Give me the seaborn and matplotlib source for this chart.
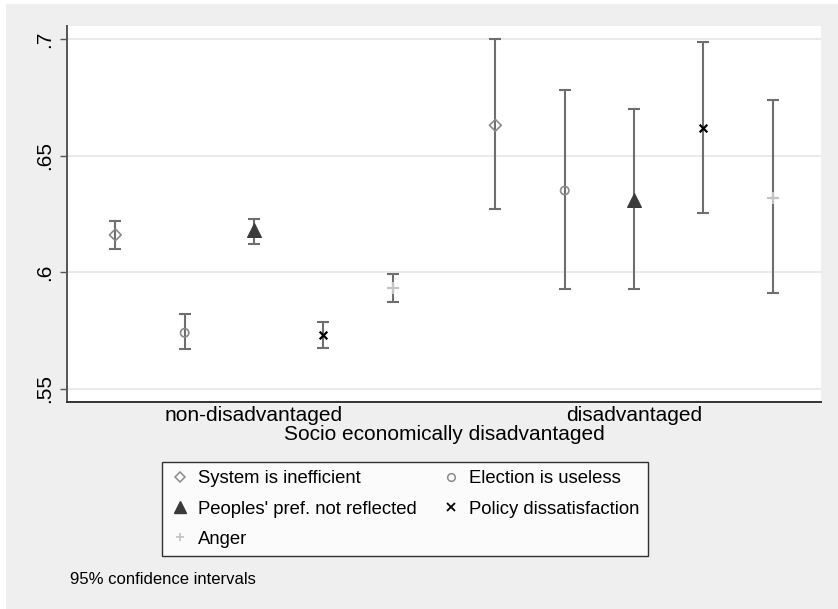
import numpy as np
import pandas as pd
import seaborn as sns
import matplotlib.pyplot as plt
from matplotlib.patches import Rectangle
from matplotlib.lines import Line2D

sns.set_style('white')
plt.rcParams['font.family'] = ['Liberation Sans', 'DejaVu Sans']
plt.rcParams['text.color'] = 'black'
plt.rcParams['axes.labelcolor'] = 'black'
plt.rcParams['xtick.color'] = 'black'
plt.rcParams['ytick.color'] = 'black'

groups = ['non-disadvantaged', 'disadvantaged']
series = ['System is inefficient', 'Election is useless',
          "Peoples' pref. not reflected", 'Policy dissatisfaction', 'Anger']

# point estimates and 95% CI per group (non-disadv., disadv.)
est = {
    'System is inefficient': [0.616, 0.663],
    'Election is useless': [0.574, 0.635],
    "Peoples' pref. not reflected": [0.618, 0.631],
    'Policy dissatisfaction': [0.573, 0.662],
    'Anger': [0.5934, 0.632],
}
lo = {
    'System is inefficient': [0.610, 0.627],
    'Election is useless': [0.567, 0.5926],
    "Peoples' pref. not reflected": [0.612, 0.5926],
    'Policy dissatisfaction': [0.5675, 0.6253],
    'Anger': [0.5873, 0.591],
}
hi = {
    'System is inefficient': [0.622, 0.700],
    'Election is useless': [0.582, 0.678],
    "Peoples' pref. not reflected": [0.623, 0.670],
    'Policy dissatisfaction': [0.5785, 0.6986],
    'Anger': [0.5994, 0.674],
}

rows = []
for j, s in enumerate(series):
    for i, g in enumerate(groups):
        rows.append({'series': s, 'group': g, 'x': i + (j - 2) * 0.1824,
                     'est': est[s][i], 'lo': lo[s][i], 'hi': hi[s][i]})
df = pd.DataFrame(rows)

markers = {'System is inefficient': 'D', 'Election is useless': 'o',
           "Peoples' pref. not reflected": '^', 'Policy dissatisfaction': 'x',
           'Anger': '+'}
mcolor = {'System is inefficient': '#8a8a8a', 'Election is useless': '#8a8a8a',
          "Peoples' pref. not reflected": '#3a3a3a', 'Policy dissatisfaction': '#000000',
          'Anger': '#c4c4c4'}
filled = {"Peoples' pref. not reflected"}
msize = {'System is inefficient': 6, 'Election is useless': 6,
         "Peoples' pref. not reflected": 10, 'Policy dissatisfaction': 5.5,
         'Anger': 8}

fig = plt.figure(figsize=(8.38, 6.09), dpi=100, facecolor='white')
fig.patches.append(Rectangle((6 / 838, 0), 1, 1 - 4 / 609, transform=fig.transFigure,
                             facecolor='#efefef', edgecolor='none', zorder=-10))
ax = fig.add_axes([67 / 838, 1 - 402 / 609, 754 / 838, 376 / 609])
ax.set_facecolor('white')

# confidence intervals
ax.errorbar(df['x'], df['est'], yerr=[df['est'] - df['lo'], df['hi'] - df['est']],
            fmt='none', ecolor='#6e6e6e', elinewidth=1.5, capsize=4.2, capthick=1.5, zorder=2)

for s in series:
    sub = df[df['series'] == s]
    c = mcolor[s]
    if s in filled:
        kw = dict(color=c, edgecolor=c)
    elif markers[s] in ('x', '+'):
        kw = dict(color=c, linewidth=1.6)
    else:
        kw = dict(facecolor='none', edgecolor=c, linewidth=1.2)
    sns.scatterplot(data=sub, x='x', y='est', marker=markers[s], s=msize[s] ** 2,
                    ax=ax, zorder=3, legend=False, **kw)

ax.set_xlim(-0.492, 1.492)
ax.set_ylim(0.5443, 0.7056)
ax.set_yticks([0.55, 0.6, 0.65, 0.7])
ax.set_yticklabels(['.55', '.6', '.65', '.7'], rotation=90, va='center', fontsize=15)
ax.set_xticks([0, 1])
ax.set_xticklabels(groups, fontsize=15)
ax.tick_params(axis='x', length=0, pad=3)
ax.tick_params(axis='y', length=5, width=1, color='#555555', left=True, pad=4)
ax.grid(axis='y', color='#e6e6e6', linewidth=1.2)
ax.set_axisbelow(True)
ax.set_xlabel('Socio economically disadvantaged', fontsize=15, labelpad=0)
ax.set_ylabel('')
for side in ['top', 'right']:
    ax.spines[side].set_visible(False)
ax.spines['left'].set_color('#555555')
ax.spines['bottom'].set_color('#333333')
ax.spines['left'].set_linewidth(1.4)
ax.spines['bottom'].set_linewidth(1.4)

handles = []
for s in [series[0], series[2], series[4], series[1], series[3]]:
    m = markers[s]
    c = mcolor[s]
    if s in filled:
        h = Line2D([], [], linestyle='none', marker=m, color=c, markersize=8)
    elif m in ('x', '+'):
        h = Line2D([], [], linestyle='none', marker=m, color=c, markersize=6, markeredgewidth=1.3)
    else:
        h = Line2D([], [], linestyle='none', marker=m, markerfacecolor='none',
                   markeredgecolor=c, markersize=5 if m == 'D' else 5.5, markeredgewidth=1.1)
    handles.append((h, s))

leg = fig.legend([h for h, _ in handles], [s for _, s in handles], ncol=2,
                 loc='upper left', bbox_to_anchor=(162 / 838, 1 - 559 / 609, 486 / 838, 97 / 609),
                 mode='expand', fontsize=13.3, frameon=True, fancybox=False,
                 edgecolor='black', handlelength=1.0, handletextpad=0.5,
                 borderaxespad=0, labelspacing=0.72, borderpad=0.45)
leg.get_frame().set_linewidth(1.0)
leg.get_frame().set_facecolor('white')

fig.text(70 / 838, 1 - 579 / 609, '95% confidence intervals', fontsize=12, va='center')

fig.savefig('out.png', dpi=100)
